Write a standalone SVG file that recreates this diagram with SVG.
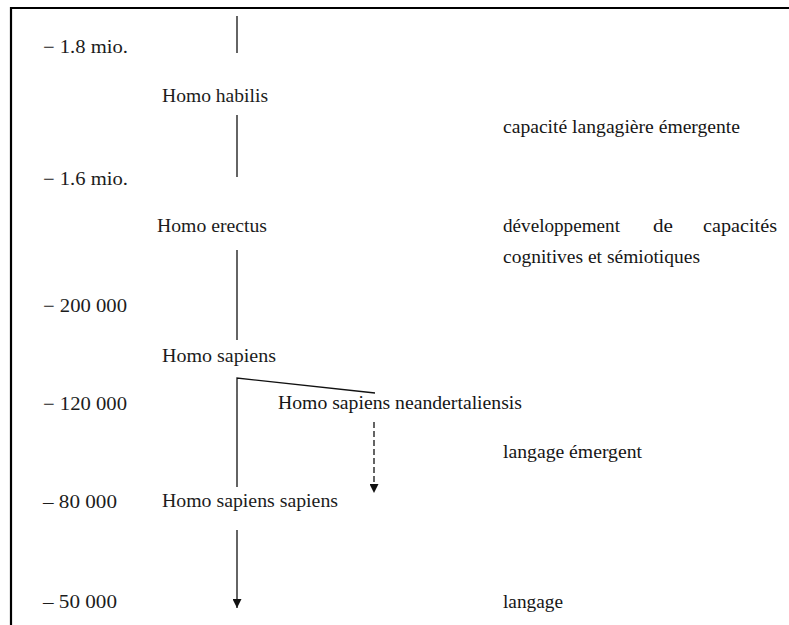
<svg xmlns="http://www.w3.org/2000/svg" width="789" height="625" viewBox="0 0 789 625">
  <style>
    text { font-family: 'Liberation Serif', 'Times New Roman', Times, serif; font-size: 18px; fill: #1c1c1c; }
    .wide { font-size: 19px; fill: #161616; }
    .line { stroke: #111; stroke-width: 1.3; fill: none; }
    .dash { stroke: #111; stroke-width: 1.3; fill: none; stroke-dasharray: 6 3; }
    .frame { stroke: #000; stroke-width: 2.2; fill: none; }
  </style>
  <defs>
    <marker id="arrow" viewBox="0 0 10 10" refX="10" refY="5" markerWidth="9" markerHeight="9" markerUnits="userSpaceOnUse" orient="auto">
      <path d="M0,0 L10,5 L0,10 Z" fill="#111"/>
    </marker>
  </defs>

  <rect width="789" height="625" fill="#fff"/>
  <!-- page frame: top and left edges -->
  <path class="frame" d="M11,625 L11,8 L789,8"/>

  <!-- time scale -->
  <g id="scale">
    <text x="43" y="53" textLength="85" lengthAdjust="spacingAndGlyphs">− 1.8 mio.</text>
    <text x="43" y="185" textLength="85" lengthAdjust="spacingAndGlyphs">− 1.6 mio.</text>
    <text x="43" y="312" textLength="84" lengthAdjust="spacingAndGlyphs">− 200 000</text>
    <text x="43" y="410" textLength="84" lengthAdjust="spacingAndGlyphs">− 120 000</text>
    <text x="43" y="508" textLength="74" lengthAdjust="spacingAndGlyphs">– 80 000</text>
    <text x="43" y="608" textLength="74" lengthAdjust="spacingAndGlyphs">– 50 000</text>
  </g>

  <!-- species -->
  <g id="habilis"><text x="162" y="102" textLength="106" lengthAdjust="spacingAndGlyphs">Homo habilis</text></g>
  <g id="erectus"><text x="157" y="232" textLength="110" lengthAdjust="spacingAndGlyphs">Homo erectus</text></g>
  <g id="sapiens"><text x="162" y="362" textLength="114" lengthAdjust="spacingAndGlyphs">Homo sapiens</text></g>
  <g id="neandertaliensis"><text class="wide" x="278" y="409" textLength="244" lengthAdjust="spacingAndGlyphs">Homo sapiens neandertaliensis</text></g>
  <g id="sapiens-sapiens"><text x="162" y="507" textLength="176" lengthAdjust="spacingAndGlyphs">Homo sapiens sapiens</text></g>

  <!-- language milestones -->
  <g id="capacite"><text class="wide" x="503" y="133" textLength="237" lengthAdjust="spacingAndGlyphs">capacité langagière émergente</text></g>
  <g id="developpement">
    <text class="wide" x="503" y="232" textLength="117" lengthAdjust="spacingAndGlyphs">développement</text>
    <text class="wide" x="653" y="232" textLength="20" lengthAdjust="spacingAndGlyphs">de</text>
    <text class="wide" x="703" y="232" textLength="74" lengthAdjust="spacingAndGlyphs">capacités</text>
    <text class="wide" x="503" y="263" textLength="197" lengthAdjust="spacingAndGlyphs">cognitives et sémiotiques</text>
  </g>
  <g id="langage-emergent"><text class="wide" x="503" y="458" textLength="139" lengthAdjust="spacingAndGlyphs">langage émergent</text></g>
  <g id="langage"><text class="wide" x="503" y="608" textLength="60" lengthAdjust="spacingAndGlyphs">langage</text></g>

  <!-- connectors -->
  <g id="connectors">
    <line class="line" x1="237" y1="16" x2="237" y2="53"/>
    <line class="line" x1="237" y1="115" x2="237" y2="177"/>
    <line class="line" x1="237" y1="250" x2="237" y2="340"/>
    <path class="line" d="M237,487 L237,378 L375,393"/>
    <line class="dash" x1="374" y1="422" x2="374" y2="493" marker-end="url(#arrow)"/>
    <line class="line" x1="237" y1="530" x2="237" y2="608" marker-end="url(#arrow)"/>
  </g>
</svg>
